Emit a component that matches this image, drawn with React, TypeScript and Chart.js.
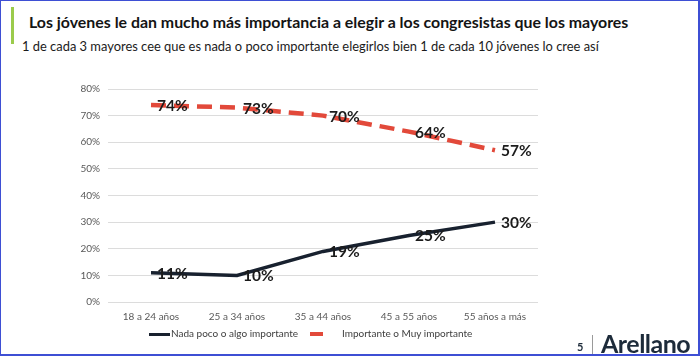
import React, { useEffect, useRef } from "react";
import { Chart, registerables } from "chart.js";

Chart.register(...registerables);

const categories = ["18 a 24 años", "25 a 34 años", "35 a 44 años", "45 a 55 años", "55 años a más"];
const nadaPoco = [11, 10, 19, 25, 30];
const importante = [74, 73, 70, 64, 57];
const seriesNames = ["Nada poco o algo importante", "Importante o Muy importante"];
const yTicks = [0, 10, 20, 30, 40, 50, 60, 70, 80];

const DARK = "#18212f";
const RED = "#e2493a";
const FONT = "Lato, 'DejaVu Sans', sans-serif";

const labelPlugin = {
  id: "pointLabels",
  afterDatasetsDraw(chart: any) {
    const ctx = chart.ctx;
    ctx.save();
    ctx.font = `bold 15.5px ${FONT}`;
    ctx.fillStyle = "#1b1b1b";
    ctx.textAlign = "left";
    ctx.textBaseline = "middle";
    chart.data.datasets.forEach((ds: any, i: number) => {
      const meta = chart.getDatasetMeta(i);
      meta.data.forEach((pt: any, j: number) => {
        ctx.fillText(ds.data[j] + "%", pt.x + 6, pt.y + 1);
      });
    });
    ctx.restore();
  },
};

export default function App() {
  const ref = useRef<HTMLCanvasElement>(null);
  useEffect(() => {
    const chart = new Chart(ref.current!, {
      type: "line",
      data: {
        labels: categories,
        datasets: [
          {
            label: seriesNames[0],
            data: nadaPoco,
            borderColor: DARK,
            backgroundColor: DARK,
            borderWidth: 3.5,
            pointRadius: 0,
            tension: 0,
          },
          {
            label: seriesNames[1],
            data: importante,
            borderColor: RED,
            backgroundColor: RED,
            borderWidth: 4.5,
            borderDash: [15, 8],
            pointRadius: 0,
            tension: 0,
          },
        ],
      },
      options: {
        animation: false,
        responsive: false,
        maintainAspectRatio: false,
        layout: { padding: { left: 0, right: 22, top: 29, bottom: 0 } },
        plugins: { legend: { display: false }, tooltip: { enabled: false } },
        scales: {
          x: {
            offset: true,
            grid: { display: false, drawTicks: false },
            border: { display: false },
            ticks: { color: "#595959", font: { family: FONT, size: 10 }, padding: 9 },
            afterFit(scale: any) {
              scale.height = 28;
            },
          },
          y: {
            min: 0,
            max: 80,
            afterBuildTicks(scale: any) {
              scale.ticks = yTicks.map((v) => ({ value: v }));
            },
            grid: { color: "#dcdcdc", lineWidth: 1, drawTicks: false },
            border: { display: false },
            ticks: {
              color: "#595959",
              font: { family: FONT, size: 10 },
              padding: 8,
              callback: (v: any) => v + "%",
            },
            afterFit(scale: any) {
              scale.width = 68;
            },
          },
        },
      },
      plugins: [labelPlugin],
    });
    return () => chart.destroy();
  }, []);

  return (
    <div
      style={{
        position: "absolute",
        left: 0,
        top: 0,
        width: 700,
        height: 356,
        boxSizing: "border-box",
        borderTop: "1px solid #3e4fd4",
        borderLeft: "1px solid #3e4fd4",
        borderRight: "2px solid #3e4fd4",
        borderBottom: "2px solid #3e4fd4",
        background: "#fff",
        fontFamily: FONT,
        overflow: "hidden",
      }}
    >
      <div style={{ position: "absolute", left: 10, top: 6, width: 3, height: 37, background: "#9bcb4c" }} />
      <div
        style={{
          position: "absolute",
          left: 28,
          top: 11,
          fontSize: 15.9,
          fontWeight: 700,
          color: "#141414",
          whiteSpace: "nowrap",
        }}
      >
        Los jóvenes le dan mucho más importancia a elegir a los congresistas que los mayores
      </div>
      <div
        style={{ position: "absolute", left: 21, top: 37, fontSize: 12.9, color: "#1b1b1b", whiteSpace: "nowrap" }}
      >
        1 de cada 3 mayores cee que es nada o poco importante elegirlos bien 1 de cada 10 jóvenes lo cree así
      </div>
      <canvas ref={ref} width={520} height={270} style={{ position: "absolute", left: 39, top: 59, width: 520, height: 270 }} />
      <div style={{ position: "absolute", left: 148, top: 326, fontSize: 10, color: "#404040", whiteSpace: "nowrap" }}>
        <span style={{ position: "absolute", left: 0, top: 6, width: 21, height: 3, background: DARK }} />
        <span style={{ position: "absolute", left: 22, top: 0 }}>{seriesNames[0]}</span>
        <span style={{ position: "absolute", left: 161, top: 5, width: 13, height: 4, background: RED }} />
        <span style={{ position: "absolute", left: 193, top: 0 }}>{seriesNames[1]}</span>
      </div>
      <div style={{ position: "absolute", left: 576, top: 339, fontSize: 11, fontWeight: 700, color: "#1d2b3a" }}>5</div>
      <div style={{ position: "absolute", left: 591, top: 334, width: 1, height: 20, background: "#9a9a9a" }} />
      <div
        style={{
          position: "absolute",
          left: 600,
          top: 327,
          fontSize: 25,
          fontWeight: 700,
          color: "#1d2b3a",
          letterSpacing: -0.5,
          lineHeight: "30px",
        }}
      >
        Arellano
      </div>
    </div>
  );
}
